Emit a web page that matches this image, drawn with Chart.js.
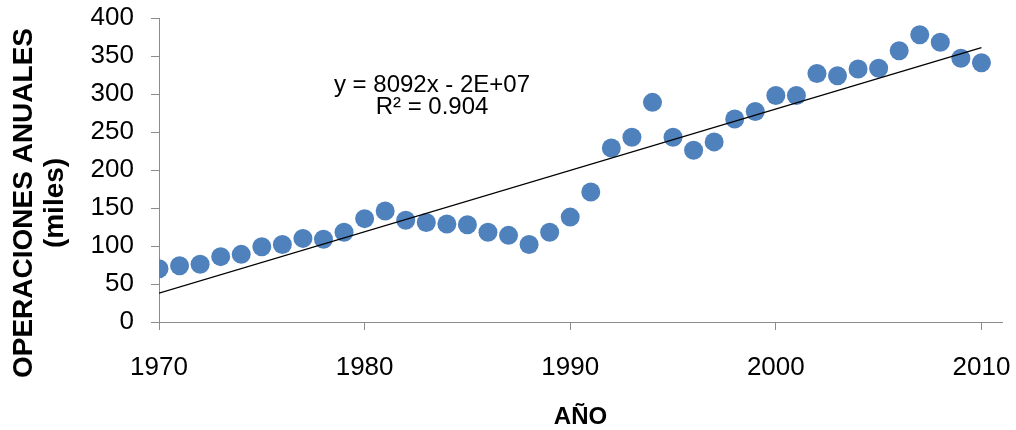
<!DOCTYPE html>
<html>
<head>
<meta charset="utf-8">
<script src="https://cdn.jsdelivr.net/npm/chart.js@4/dist/chart.umd.min.js"></script>
<style>
html,body{margin:0;padding:0;background:#fff;}
#wrap{width:1016px;height:430px;position:relative;}
</style>
</head>
<body>
<div id="wrap"><canvas id="c" width="1016" height="430"></canvas></div>
<script>
const years = [1970,1971,1972,1973,1974,1975,1976,1977,1978,1979,
               1980,1981,1982,1983,1984,1985,1986,1987,1988,1989,
               1990,1991,1992,1993,1994,1995,1996,1997,1998,1999,
               2000,2001,2002,2003,2004,2005,2006,2007,2008,2009,2010];
const operations = [70,74,76,86,89,99,102,110,109,118,
                    136,146,134,131,129,128,118,114,102,118,
                    138,171,229,243,289,243,226,237,267,277,
                    298,298,327,324,333,334,357,378,368,347,341];
const trendYears = [1970, 2010];
const trendValues = [38, 361];
const xTickValues = [1970,1980,1990,2000,2010];
const yTickValues = [0,50,100,150,200,250,300,350,400];
const yTitleLines = ["OPERACIONES ANUALES", "(miles)"];
const xTitle = "AÑO";
const equationLines = ["y = 8092x - 2E+07", "R² = 0.904"];

const FONT = "'Liberation Sans', Arial, sans-serif";

const textPlugin = {
  id: 'textPlugin',
  afterDraw(chart) {
    const ctx = chart.ctx;
    ctx.save();
    ctx.fillStyle = '#000';
    // y-axis title (rotated, two lines)
    ctx.font = "bold 28px " + FONT;
    ctx.textAlign = 'center';
    ctx.textBaseline = 'middle';
    const cy = 203;
    yTitleLines.forEach((t, i) => {
      ctx.save();
      ctx.translate(24 + i * 31, cy);
      ctx.rotate(-Math.PI / 2);
      ctx.fillText(t, 0, 0);
      ctx.restore();
    });
    // regression annotation
    ctx.font = "24px " + FONT;
    equationLines.forEach((t, i) => {
      ctx.fillText(t, 432, 85 + i * 22);
    });
    ctx.restore();
  }
};

const axisColor = '#8c8c8c';

new Chart(document.getElementById('c'), {
  type: 'scatter',
  data: {
    datasets: [
      {
        type: 'line',
        label: 'Tendencia',
        data: trendYears.map((x, i) => ({x: x, y: trendValues[i]})),
        borderColor: '#000',
        borderWidth: 1.2,
        pointRadius: 0,
        fill: false,
        order: 0
      },
      {
        label: 'Operaciones anuales',
        data: years.map((x, i) => ({x: x, y: operations[i]})),
        backgroundColor: '#4F81BD',
        borderColor: '#4F81BD',
        borderWidth: 0,
        pointRadius: 9.5,
        order: 1
      }
    ]
  },
  options: {
    responsive: false,
    animation: false,
    devicePixelRatio: 1,
    layout: {padding: {top: 18, right: 14, bottom: 0, left: 0}},
    plugins: {legend: {display: false}, tooltip: {enabled: false}},
    scales: {
      x: {
        type: 'linear',
        min: 1970,
        max: 2011,
        afterBuildTicks: s => { s.ticks = xTickValues.map(v => ({value: v})); },
        afterFit: s => { s.height = 108; s.paddingLeft = 0; s.paddingRight = 0; },
        grid: {drawOnChartArea: false, drawTicks: true, tickLength: 8, color: axisColor},
        border: {color: axisColor, width: 1},
        ticks: {font: {size: 26, family: FONT}, color: '#000', padding: 22, maxRotation: 0, autoSkip: false,
                callback: v => String(v)},
        title: {display: true, text: xTitle, color: '#000', font: {size: 24, weight: 'bold', family: FONT, lineHeight: 1.0},
                padding: {top: 0, bottom: 1}}
      },
      y: {
        min: 0,
        max: 400,
        afterBuildTicks: s => { s.ticks = yTickValues.map(v => ({value: v})); },
        afterFit: s => { s.width = 159; s.paddingTop = 0; s.paddingBottom = 0; },
        grid: {drawOnChartArea: false, drawTicks: true, tickLength: 8, color: axisColor},
        border: {color: axisColor, width: 1},
        ticks: {font: {size: 26, family: FONT}, color: '#000', padding: 17, callback: v => String(v)},
        title: {display: false}
      }
    }
  },
  plugins: [textPlugin]
});
</script>
</body>
</html>
